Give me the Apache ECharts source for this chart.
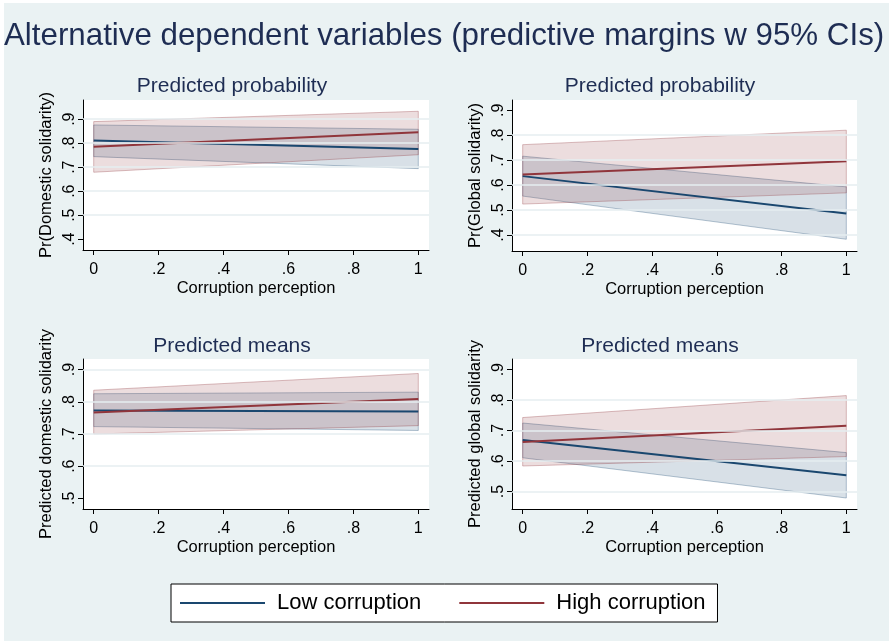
<!DOCTYPE html>
<html>
<head>
<meta charset="utf-8">
<script src="https://cdn.jsdelivr.net/npm/echarts@6/dist/echarts.min.js"></script>
<style>
html, body { margin: 0; padding: 0; background: #fff; }
#chart { width: 894px; height: 643px; }
</style>
</head>
<body>
<div id="chart"></div>
<script>
// margins at corruption perception = 0 and 1
const xVals = [0, 1]
const xTicks = [0, 0.2, 0.4, 0.6, 0.8, 1]
const seriesNames = ['Low corruption', 'High corruption']

// Pr(Domestic solidarity)
const domProbLow = [0.811, 0.776]
const domProbLowLo = [0.744, 0.694]
const domProbLowHi = [0.876, 0.858]
const domProbHigh = [0.785, 0.846]
const domProbHighLo = [0.679, 0.752]
const domProbHighHi = [0.890, 0.933]

// Pr(Global solidarity)
const globProbLow = [0.636, 0.486]
const globProbLowLo = [0.556, 0.383]
const globProbLowHi = [0.716, 0.593]
const globProbHigh = [0.643, 0.696]
const globProbHighLo = [0.524, 0.569]
const globProbHighHi = [0.762, 0.820]

// Predicted domestic solidarity
const domMeanLow = [0.773, 0.770]
const domMeanLowLo = [0.723, 0.711]
const domMeanLowHi = [0.825, 0.830]
const domMeanHigh = [0.767, 0.809]
const domMeanHighLo = [0.700, 0.726]
const domMeanHighHi = [0.836, 0.888]

// Predicted global solidarity
const globMeanLow = [0.669, 0.554]
const globMeanLowLo = [0.611, 0.479]
const globMeanLowHi = [0.725, 0.628]
const globMeanHigh = [0.663, 0.716]
const globMeanHighLo = [0.584, 0.615]
const globMeanHighHi = [0.743, 0.815]

const probTicks = [0.4, 0.5, 0.6, 0.7, 0.8, 0.9]
const meanTicks = [0.5, 0.6, 0.7, 0.8, 0.9]

const navy = '#1a476f'
const maroon = '#90353b'
const font = 'Liberation Sans, Arial, sans-serif'

const panels = [
  { title: 'Predicted probability', yName: 'Pr(Domestic solidarity)', ticks: probTicks, grid: [0.5, 0.6, 0.7, 0.8, 0.9],
    yMin: 0.355, yMax: 0.98, box: { left: 83, top: 100, width: 346, height: 150 }, tx: 232, ty: 76,
    low: [domProbLow, domProbLowLo, domProbLowHi], high: [domProbHigh, domProbHighLo, domProbHighHi] },
  { title: 'Predicted probability', yName: 'Pr(Global solidarity)', ticks: probTicks, grid: [0.4, 0.5, 0.6, 0.7, 0.8],
    yMin: 0.336, yMax: 0.941, box: { left: 512, top: 100, width: 345, height: 151 }, tx: 660, ty: 76,
    low: [globProbLow, globProbLowLo, globProbLowHi], high: [globProbHigh, globProbHighLo, globProbHighHi] },
  { title: 'Predicted means', yName: 'Predicted domestic solidarity', ticks: meanTicks, grid: [0.6, 0.7, 0.8, 0.9],
    yMin: 0.467, yMax: 0.933, box: { left: 83, top: 359, width: 346, height: 150 }, tx: 232, ty: 336,
    low: [domMeanLow, domMeanLowLo, domMeanLowHi], high: [domMeanHigh, domMeanHighLo, domMeanHighHi] },
  { title: 'Predicted means', yName: 'Predicted global solidarity', ticks: meanTicks, grid: [0.5, 0.6, 0.7, 0.8],
    yMin: 0.443, yMax: 0.935, box: { left: 512, top: 359, width: 345, height: 150 }, tx: 660, ty: 336,
    low: [globMeanLow, globMeanLowLo, globMeanLowHi], high: [globMeanHigh, globMeanHighLo, globMeanHighHi] }
]

const fmt = v => {
  if (v === 0) return '0'
  if (v === 1) return '1'
  return String(+v.toFixed(1)).replace(/^0/, '')
}

function band (name, lo, hi, rgb, idx) {
  return {
    type: 'custom',
    name: name,
    xAxisIndex: idx,
    yAxisIndex: idx,
    z: 2,
    silent: true,
    data: xVals.map((x, i) => [x, lo[i], hi[i]]),
    encode: { x: 0, y: [1, 2] },
    renderItem: (params, api) => {
      const i = params.dataIndex
      if (i >= xVals.length - 1) return
      const pts = [
        api.coord([xVals[i], hi[i]]),
        api.coord([xVals[i + 1], hi[i + 1]]),
        api.coord([xVals[i + 1], lo[i + 1]]),
        api.coord([xVals[i], lo[i]])
      ]
      return {
        type: 'polygon',
        shape: { points: pts },
        style: { fill: 'rgba(' + rgb + ',0.17)', stroke: 'rgba(' + rgb + ',0.32)', lineWidth: 1 }
      }
    }
  }
}

function line (name, vals, color, idx) {
  return {
    type: 'line',
    name: name,
    xAxisIndex: idx,
    yAxisIndex: idx,
    z: 3,
    showSymbol: false,
    color: color,
    lineStyle: { color: color, width: 2 },
    data: xVals.map((x, i) => [x, vals[i]])
  }
}

const option = {
  backgroundColor: '#fff',
  animation: false,
  textStyle: { fontFamily: font },
  graphic: [{
    type: 'rect', z: -10, silent: true,
    shape: { x: 4, y: 3, width: 885, height: 638 },
    style: { fill: '#eaf2f3' }
  }],
  title: [{
    text: 'Alternative dependent variables (predictive margins w 95% CIs)',
    left: 4, top: 21, padding: 0,
    textStyle: { fontSize: 31.3, fontWeight: 'normal', color: '#1e2d53', fontFamily: font }
  }].concat(panels.map(p => ({
    text: p.title, left: p.tx, top: p.ty, textAlign: 'center', padding: 0,
    textStyle: { fontSize: 21, fontWeight: 'normal', color: '#1e2d53', fontFamily: font }
  }))),
  legend: {
    data: seriesNames,
    left: 171, top: 584,
    padding: [8, 12, 8, 9],
    itemGap: 38,
    itemWidth: 85,
    itemHeight: 2,
    icon: 'rect',
    backgroundColor: '#fff',
    borderColor: '#000',
    borderWidth: 1,
    borderRadius: 0,
    textStyle: { fontSize: 22, color: '#000', fontFamily: font, padding: [0, 0, 0, 7] }
  },
  grid: panels.map(p => Object.assign({ show: true, backgroundColor: '#fff', borderWidth: 0 }, p.box)),
  xAxis: panels.map((p, i) => ({
    type: 'value', gridIndex: i, min: -0.033, max: 1.033,
    name: 'Corruption perception', nameLocation: 'middle', nameGap: 30,
    nameTextStyle: { fontSize: 16.5, color: '#000', fontFamily: font },
    axisLine: { onZero: false, lineStyle: { color: '#000', width: 1 } },
    axisTick: { customValues: xTicks, length: 5, lineStyle: { color: '#000' } },
    axisLabel: { customValues: xTicks, formatter: fmt, fontSize: 16, color: '#000', margin: 12, fontFamily: font },
    splitLine: { show: false }
  })),
  yAxis: panels.map((p, i) => ({
    type: 'value', gridIndex: i, min: p.yMin, max: p.yMax,
    name: p.yName, nameLocation: 'middle', nameGap: 28,
    nameTextStyle: { fontSize: 16.5, color: '#000', fontFamily: font },
    axisLine: { show: true, onZero: false, lineStyle: { color: '#000', width: 1 } },
    axisTick: { show: true, customValues: p.ticks, length: 5, lineStyle: { color: '#000' } },
    axisLabel: { customValues: p.ticks, formatter: fmt, rotate: 90, fontSize: 16, color: '#000', margin: 5, fontFamily: font },
    splitLine: { show: false }
  })),
  series: []
}

panels.forEach((p, i) => {
  // gridlines
  option.series.push({
    type: 'line', name: 'grid' + i, xAxisIndex: i, yAxisIndex: i, z: 1, data: [],
    markLine: {
      silent: true, symbol: 'none', label: { show: false },
      lineStyle: { color: '#e6eef0', width: 1.6, type: 'solid' },
      data: p.grid.map(v => ({ yAxis: v }))
    }
  })
  option.series.push(band('Low CI ' + i, p.low[1], p.low[2], '26,71,111', i))
  option.series.push(band('High CI ' + i, p.high[1], p.high[2], '144,53,59', i))
  option.series.push(line(seriesNames[0], p.low[0], navy, i))
  option.series.push(line(seriesNames[1], p.high[0], maroon, i))
})

const chart = echarts.init(document.getElementById('chart'))
chart.setOption(option)
</script>
</body>
</html>
